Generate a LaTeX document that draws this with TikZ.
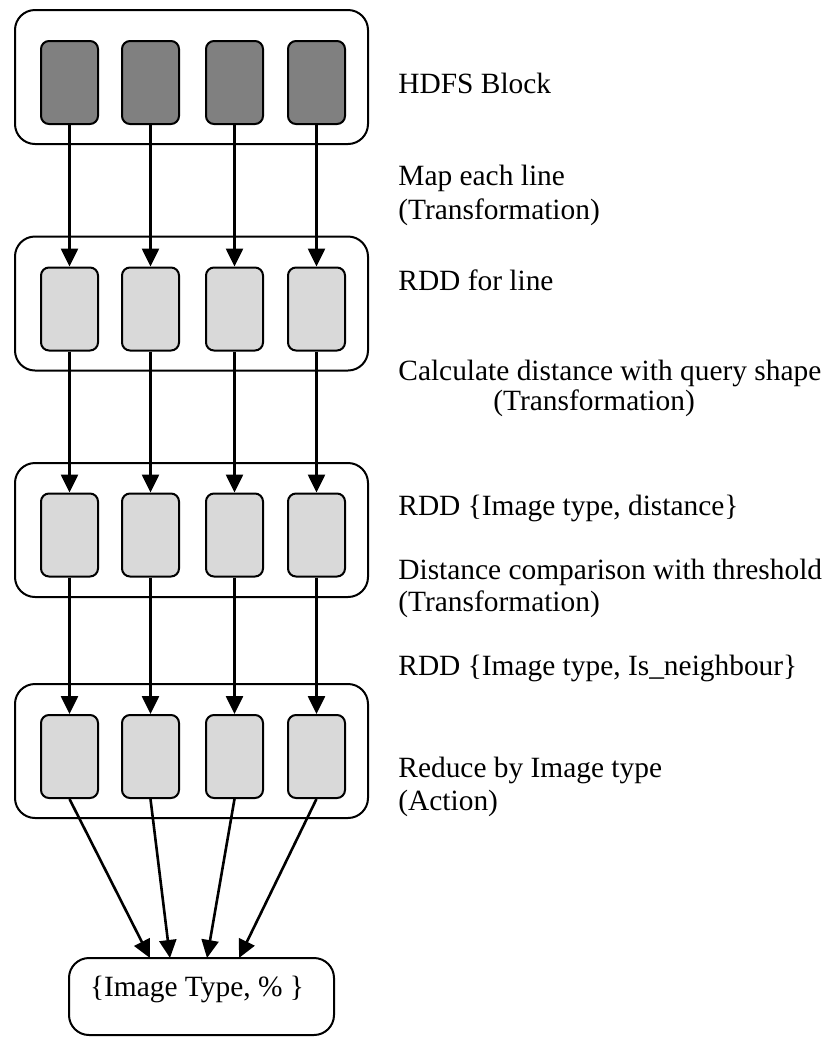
\documentclass[tikz,border=0pt]{standalone}
\usepackage{fontspec}
\setmainfont{Liberation Serif}
\usepackage{tikz}
\usetikzlibrary{arrows.meta}
\usetikzlibrary{positioning}

\definecolor{blkdark}{HTML}{808080}
\definecolor{blklight}{HTML}{D9D9D9}

\begin{document}
\begin{tikzpicture}[x=0.5pt,y=-0.5pt,
  outer/.style={draw,line width=1pt,rounded corners=10pt,minimum width=176.5pt,minimum height=67pt,inner sep=0pt},
  blk/.style={draw,line width=1pt,rounded corners=4pt,minimum width=28.5pt,minimum height=41.5pt,inner sep=0pt,fill=#1},
  flow/.style={-{Triangle[length=9pt,width=8.5pt]},line width=1.3pt},
  note/.style={anchor=west,inner sep=0pt,font=\fontsize{14.7}{17}\selectfont}]

  \useasboundingbox (0,0) rectangle (824,1041);

	%outer boxes
    \foreach \r/\y in {1/77,2/303.5,3/530,4/751}{
         \node[outer] (row\r) at (191.5,\y) {};
    }

	%partitions
    \foreach \r/\y/\c in {1/82.5/blkdark,2/309/blklight,3/535/blklight,4/756.5/blklight}{
      \foreach \k/\x in {1/69.5,2/150.5,3/234.5,4/316.5}{
           \node[blk=\c] (b\r\k) at (\x,\y) {};
      }
    }

	%transformations
    \foreach \r/\s in {1/2,2/3,3/4}{
      \foreach \k in {1,...,4}{
           \draw[flow] (b\r\k.south) -- (b\s\k.north);
      }
    }

	%result
    \node[draw,line width=1pt,rounded corners=10pt,minimum width=132.5pt,minimum height=38.5pt,inner sep=0pt] (res) at (201.5,996.5) {};
    \node[note,anchor=center] (restxt) at (197,989) {\{Image Type, \% \}};

    \foreach \k/\x in {1/150,2/170,3/207,4/239}{
           \coordinate (in\k) at (\x,958);
           \draw[flow] (b4\k.south) -- (in\k);
    }

	%descriptions
    \foreach \x/\y/\txt [count=\n] in {398/83/{HDFS Block},398/178/{Map each line},398/212/{(Transformation)},
        398/280/{RDD for line},398/373/{Calculate distance with query shape},493/403/{(Transformation)},
        398/508/{RDD \{Image type, distance\}},398/572/{Distance comparison with threshold},398/604/{(Transformation)},
        398/668/{RDD \{Image type, Is\_neighbour\}},398/770/{Reduce by Image type},398/803/{(Action)}}{
         \node[note] (lbl\n) at (\x,\y) {\txt};
    }

\end{tikzpicture}
\end{document}
